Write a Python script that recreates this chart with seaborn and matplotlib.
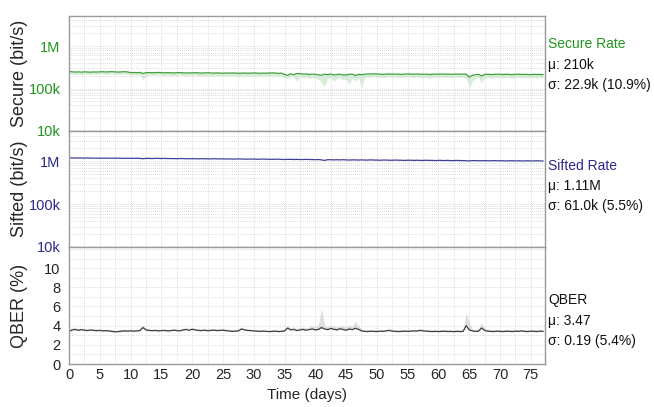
import numpy as np
import pandas as pd
import matplotlib
matplotlib.use("Agg")
import matplotlib.pyplot as plt
import seaborn as sns
from matplotlib.ticker import MultipleLocator, FixedLocator, LogLocator, NullFormatter

sns.set_style("white")
plt.rcParams['font.family'] = ['Liberation Sans', 'DejaVu Sans']

# time axis, half-day samples from 0 to 77 days
DAYS = [i * 0.5 for i in range(155)]

# secure key rate (kbit/s), main trace
SECURE_K = [
    252, 248, 244, 246, 243, 247, 245, 242, 246, 244,
    247, 249, 245, 248, 250, 246, 244, 247, 249, 246,
    237, 239, 236, 240, 226, 236, 238, 235, 237, 239,
    236, 234, 237, 235, 233, 236, 238, 234, 232, 235,
    233, 236, 234, 231, 233, 235, 232, 230, 233, 231,
    229, 232, 230, 233, 231, 228, 230, 232, 229, 231,
    233, 230, 228, 231, 229, 232, 234, 231, 228, 230,
    215, 205, 222, 212, 226, 224, 218, 221, 214, 219,
    216, 210, 205, 218, 212, 220, 209, 214, 218, 207,
    210, 216, 219, 202, 215, 212, 218, 221, 219, 222,
    220, 218, 216, 219, 221, 217, 220, 218, 216, 219,
    221, 219, 217, 220, 218, 216, 219, 214, 217, 219,
    218, 220, 217, 219, 216, 218, 220, 217, 219, 218,
    185, 205, 212, 216, 198, 214, 217, 213, 215, 218,
    216, 214, 217, 215, 213, 216, 218, 214, 216, 215,
    213, 216, 214, 215, 212,
]
# lower edge of the faint secure-rate envelope (kbit/s)
SECURE_LO_K = [
    222, 218, 214, 218, 213, 219, 216, 211, 218, 214,
    219, 221, 216, 220, 222, 217, 214, 218, 221, 217,
    207, 210, 205, 211, 160, 200, 208, 204, 207, 210,
    206, 203, 207, 204, 200, 206, 208, 203, 200, 205,
    202, 206, 203, 198, 202, 205, 200, 197, 202, 199,
    196, 201, 198, 202, 199, 195, 198, 201, 196, 199,
    202, 197, 194, 199, 196, 200, 203, 198, 194, 197,
    180, 175, 190, 185, 148, 190, 178, 185, 172, 180,
    176, 165, 140, 113, 170, 180, 150, 170, 178, 160,
    165, 124, 178, 150, 175, 105, 182, 186, 184, 188,
    186, 183, 180, 184, 187, 182, 185, 183, 180, 184,
    186, 184, 181, 185, 182, 180, 184, 175, 181, 184,
    183, 186, 182, 184, 180, 183, 186, 182, 184, 170,
    105, 150, 175, 180, 137, 178, 182, 177, 180, 184,
    181, 178, 182, 180, 177, 181, 184, 178, 181, 180,
    177, 181, 179, 180, 176,
]
# sifted key rate (Mbit/s)
SIFTED_M = [
    1.20, 1.20, 1.19, 1.20, 1.19, 1.19, 1.20, 1.19, 1.19, 1.18,
    1.19, 1.18, 1.19, 1.18, 1.18, 1.19, 1.18, 1.18, 1.17, 1.18,
    1.18, 1.17, 1.18, 1.17, 1.15, 1.17, 1.17, 1.16, 1.17, 1.17,
    1.16, 1.17, 1.16, 1.16, 1.16, 1.15, 1.16, 1.16, 1.15, 1.15,
    1.15, 1.15, 1.14, 1.15, 1.15, 1.14, 1.14, 1.15, 1.14, 1.14,
    1.14, 1.13, 1.14, 1.13, 1.13, 1.14, 1.13, 1.13, 1.12, 1.13,
    1.13, 1.12, 1.12, 1.13, 1.12, 1.12, 1.11, 1.12, 1.12, 1.11,
    1.10, 1.11, 1.11, 1.10, 1.11, 1.10, 1.10, 1.11, 1.10, 1.10,
    1.09, 1.10, 1.08, 1.05, 1.09, 1.09, 1.08, 1.09, 1.08, 1.09,
    1.08, 1.07, 1.08, 1.08, 1.07, 1.08, 1.07, 1.07, 1.08, 1.07,
    1.07, 1.06, 1.07, 1.07, 1.06, 1.06, 1.07, 1.06, 1.06, 1.05,
    1.06, 1.06, 1.05, 1.06, 1.05, 1.05, 1.06, 1.05, 1.05, 1.04,
    1.05, 1.05, 1.04, 1.05, 1.04, 1.04, 1.05, 1.04, 1.04, 1.03,
    1.02, 1.04, 1.04, 1.03, 1.03, 1.04, 1.03, 1.03, 1.04, 1.03,
    1.03, 1.03, 1.02, 1.03, 1.03, 1.02, 1.03, 1.02, 1.02, 1.03,
    1.02, 1.02, 1.03, 1.02, 1.02,
]
# QBER (%)
QBER = [
    3.40, 3.55, 3.60, 3.50, 3.58, 3.52, 3.48, 3.55, 3.50, 3.47,
    3.50, 3.45, 3.48, 3.44, 3.40, 3.35, 3.38, 3.42, 3.45, 3.43,
    3.46, 3.42, 3.45, 3.48, 3.80, 3.55, 3.50, 3.47, 3.50, 3.45,
    3.48, 3.50, 3.45, 3.47, 3.52, 3.48, 3.45, 3.55, 3.60, 3.52,
    3.62, 3.55, 3.50, 3.48, 3.52, 3.47, 3.50, 3.53, 3.48, 3.50,
    3.52, 3.48, 3.45, 3.40, 3.42, 3.45, 3.65, 3.55, 3.50, 3.48,
    3.45, 3.42, 3.40, 3.43, 3.40, 3.38, 3.40, 3.42, 3.38, 3.40,
    3.45, 3.75, 3.55, 3.60, 3.48, 3.55, 3.60, 3.52, 3.58, 3.65,
    3.55, 3.60, 3.80, 3.65, 3.58, 3.70, 3.62, 3.55, 3.68, 3.60,
    3.52, 3.65, 3.58, 3.72, 3.62, 3.45, 3.40, 3.38, 3.42, 3.40,
    3.38, 3.42, 3.40, 3.45, 3.50, 3.42, 3.40, 3.38, 3.40, 3.42,
    3.40, 3.42, 3.45, 3.43, 3.50, 3.45, 3.42, 3.40, 3.38, 3.40,
    3.38, 3.40, 3.42, 3.38, 3.40, 3.37, 3.40, 3.38, 3.40, 4.00,
    3.55, 3.45, 3.40, 3.42, 3.75, 3.50, 3.42, 3.40, 3.38, 3.42,
    3.40, 3.38, 3.42, 3.40, 3.38, 3.42, 3.40, 3.45, 3.40, 3.38,
    3.42, 3.40, 3.38, 3.42, 3.40,
]
# upper edge of the faint QBER envelope (%)
QBER_HI = [
    3.60, 3.75, 3.80, 3.70, 3.75, 3.70, 3.65, 3.72, 3.68, 3.65,
    3.66, 3.62, 3.64, 3.60, 3.58, 3.52, 3.55, 3.58, 3.62, 3.60,
    3.62, 3.58, 3.62, 3.65, 4.05, 3.72, 3.66, 3.63, 3.66, 3.62,
    3.64, 3.66, 3.62, 3.64, 3.70, 3.65, 3.62, 3.72, 3.78, 3.70,
    3.80, 3.72, 3.66, 3.64, 3.70, 3.64, 3.66, 3.70, 3.65, 3.66,
    3.70, 3.64, 3.62, 3.56, 3.58, 3.62, 3.85, 3.72, 3.66, 3.64,
    3.62, 3.58, 3.56, 3.60, 3.56, 3.54, 3.56, 3.58, 3.54, 3.56,
    3.62, 4.00, 3.75, 3.85, 3.70, 3.80, 3.85, 3.75, 3.85, 3.95,
    3.90, 4.10, 5.80, 4.00, 3.90, 4.05, 3.95, 3.85, 4.00, 3.95,
    3.85, 4.00, 3.90, 4.45, 3.95, 3.65, 3.58, 3.55, 3.60, 3.56,
    3.55, 3.60, 3.58, 3.62, 3.70, 3.60, 3.58, 3.55, 3.58, 3.60,
    3.58, 3.60, 3.62, 3.60, 3.70, 3.62, 3.60, 3.58, 3.55, 3.58,
    3.55, 3.58, 3.60, 3.55, 3.58, 3.54, 3.58, 3.55, 3.60, 5.30,
    4.30, 3.65, 3.58, 3.62, 4.35, 3.70, 3.60, 3.58, 3.55, 3.60,
    3.58, 3.55, 3.60, 3.58, 3.55, 3.60, 3.58, 3.62, 3.58, 3.55,
    3.60, 3.58, 3.55, 3.60, 3.58,
]

PANEL_STATS = {
    "secure": ["Secure Rate", "\u03bc: 210k", "\u03c3: 22.9k (10.9%)"],
    "sifted": ["Sifted Rate", "\u03bc: 1.11M", "\u03c3: 61.0k (5.5%)"],
    "qber": ["QBER", "\u03bc: 3.47", "\u03c3: 0.19 (5.4%)"],
}

GREEN = "#3f9f3f"
GREEN_TXT = "#1e961e"
NAVY = "#40409a"
NAVY_TXT = "#2a2a8a"
GREY_LINE = "#404040"
SPINE = "#9a9a9a"
GRID = "#d0d0d0"

df = pd.DataFrame({
    "day": DAYS,
    "secure": np.array(SECURE_K) * 1e3,
    "secure_lo": np.array(SECURE_LO_K) * 1e3,
    "sifted": np.array(SIFTED_M) * 1e6,
    "qber": QBER,
    "qber_hi": QBER_HI,
})

fig = plt.figure(figsize=(6.54, 4.07), dpi=100)
left, width = 69 / 654, 476 / 654
ax1 = fig.add_axes([left, 1 - 131 / 407, width, 115 / 407])
ax2 = fig.add_axes([left, 1 - 247 / 407, width, 116 / 407])
ax3 = fig.add_axes([left, 1 - 364 / 407, width, 117 / 407])


def style_axis(ax, tick_color):
    for s in ax.spines.values():
        s.set_color(SPINE)
        s.set_linewidth(1.0)
    ax.set_xlim(0, 77.3)
    ax.xaxis.set_major_locator(MultipleLocator(5))
    ax.xaxis.set_minor_locator(MultipleLocator(1))
    ax.tick_params(axis="x", which="major", direction="in", length=4, color=SPINE,
                   labelsize=10.5, pad=3)
    ax.tick_params(axis="x", which="minor", direction="in", length=2.5, color=SPINE)
    ax.tick_params(axis="y", which="major", direction="out", length=4, color=SPINE,
                   labelsize=10.5, labelcolor=tick_color, pad=2)
    ax.tick_params(axis="y", which="minor", direction="out", length=2, color=SPINE)
    for xv in np.arange(2.5, 77.3, 2.5):
        ax.axvline(xv, color=GRID, lw=0.6, ls=(0, (1, 1.5)), zorder=0)


def log_panel(ax):
    ax.set_yscale("log")
    ax.set_ylim(1e4, 5.1e6)
    ax.yaxis.set_major_locator(FixedLocator([1e4, 1e5, 1e6]))
    ax.set_yticklabels(["10k", "100k", "1M"])
    ax.yaxis.set_minor_locator(LogLocator(base=10, subs=np.arange(2, 10)))
    ax.yaxis.set_minor_formatter(NullFormatter())
    ax.grid(True, axis="y", which="both", color=GRID, lw=0.6, ls=(0, (1, 1.5)))
    ax.set_axisbelow(True)


# secure rate
style_axis(ax1, GREEN_TXT)
log_panel(ax1)
ax1.fill_between(df["day"], df["secure_lo"], df["secure"], color="#cfe9cf", lw=0, alpha=0.8)
sns.lineplot(data=df, x="day", y="secure", ax=ax1, color=GREEN, lw=0.9)
ax1.set_ylabel("Secure (bit/s)", fontsize=13)
ax1.set_xlabel("")
ax1.tick_params(axis="x", labelbottom=False)

# sifted rate
style_axis(ax2, NAVY_TXT)
log_panel(ax2)
sns.lineplot(data=df, x="day", y="sifted", ax=ax2, color=NAVY, lw=0.9)
ax2.set_ylabel("Sifted (bit/s)", fontsize=13)
ax2.set_xlabel("")
ax2.tick_params(axis="x", labelbottom=False)

# qber
style_axis(ax3, "#222222")
ax3.set_ylim(0, 12.2)
ax3.yaxis.set_major_locator(FixedLocator([0, 2, 4, 6, 8, 10]))
ax3.yaxis.set_minor_locator(FixedLocator([1, 3, 5, 7, 9, 11, 12]))
ax3.grid(True, axis="y", which="both", color=GRID, lw=0.6, ls=(0, (1, 1.5)))
ax3.set_axisbelow(True)
ax3.fill_between(df["day"], df["qber"], df["qber_hi"], color="#d6d6d6", lw=0, alpha=0.8)
sns.lineplot(data=df, x="day", y="qber", ax=ax3, color=GREY_LINE, lw=0.9)
ax3.set_ylabel("QBER (%)", fontsize=13)
ax3.set_xlabel("Time (days)", fontsize=11, labelpad=4)

for ax in (ax1, ax2, ax3):
    ax.yaxis.set_label_coords(-0.086, 0.5)

# right-hand annotations
panels = [
    (ax1, "secure", GREEN_TXT, [0.757, 0.574, 0.40]),
    (ax2, "sifted", NAVY_TXT, [0.70, 0.526, 0.353]),
    (ax3, "qber", "#111111", [0.547, 0.368, 0.197]),
]
for ax, key, col, ys in panels:
    lines = PANEL_STATS[key]
    for i, (txt, yy) in enumerate(zip(lines, ys)):
        ax.text(1.007, yy, txt, transform=ax.transAxes, fontsize=10,
                color=col if i == 0 else "#111111", va="center", ha="left")

fig.savefig("out.png", dpi=100)
